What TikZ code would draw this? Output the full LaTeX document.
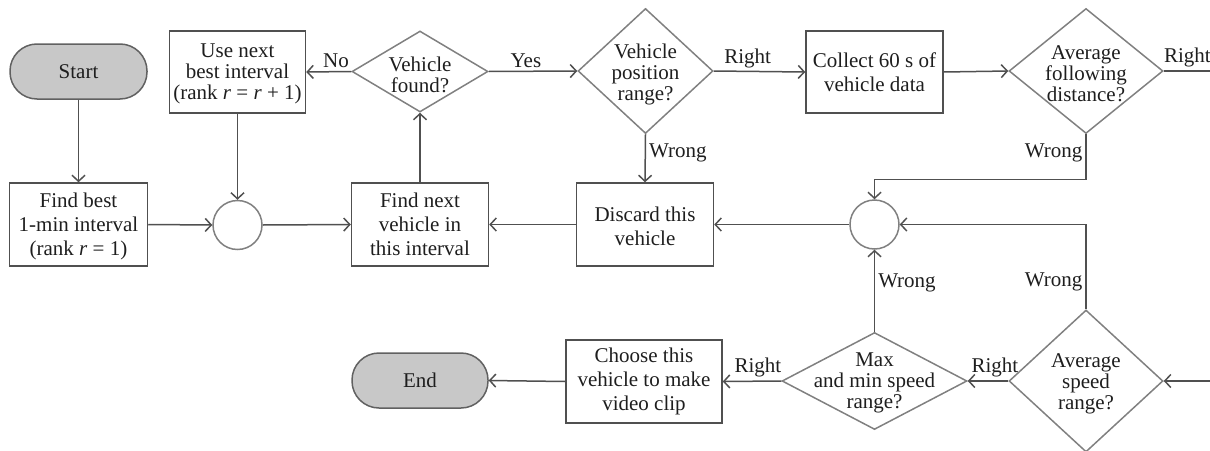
\documentclass[tikz,border=0pt]{standalone}
\usepackage{fontspec}
\setmainfont{Liberation Serif}
\usetikzlibrary{shapes.geometric,arrows.meta}
\definecolor{lncol}{HTML}{505050}
\definecolor{dmcol}{HTML}{808080}
\definecolor{txcol}{HTML}{1E1E1E}
\definecolor{tfcol}{HTML}{C8C8C8}
\begin{document}
\begin{tikzpicture}[x=1pt, y=-1pt, line width=1.5pt,
  font=\fontsize{21}{24}\selectfont, text=txcol,
  arr/.style={draw=lncol, -{Straight Barb[length=6pt,width=13pt]}},
  plain/.style={draw=lncol},
  boxnode/.style={rectangle, draw=lncol, minimum width=137pt, minimum height=83pt, inner sep=0pt, align=center},
  term/.style={rectangle, draw=lncol!90, fill=tfcol, rounded corners=27pt, minimum width=137pt, minimum height=55pt, inner sep=0pt},
  dec/.style={diamond, draw=dmcol, inner sep=0pt},
  dtext/.style={align=center, font=\fontsize{21}{21}\selectfont, inner sep=0pt, yshift=-3pt},
  junc/.style={circle, draw=dmcol, minimum size=49pt, inner sep=0pt},
  lab/.style={inner sep=3pt}]
\useasboundingbox (0,0) rectangle (1210,450);

% row 1
\node[term] (start) at (78.5,71.5) {Start};
\node[boxnode, minimum width=136pt, minimum height=82pt, font=\fontsize{21}{21.5}\selectfont] (usenext) at (237.5,72) {\raisebox{-2pt}[\height][\depth]{\begin{tabular}{@{}c@{}}Use next\\[-0.5pt]best interval\\[-0.5pt](rank \textit{r} = \textit{r} + 1)\end{tabular}}};
\node[dec, minimum width=136pt, minimum height=81pt, label={[dtext]center:Vehicle\\found?}] (found) at (420,71.5) {};
\node[dec, minimum width=135pt, minimum height=125pt, label={[dtext]center:Vehicle\\position\\range?}] (position) at (645.5,71) {};
\node[boxnode, minimum height=82pt] (collect) at (874.5,72) {Collect 60 s of\\vehicle data};
\node[dec, minimum width=154pt, minimum height=125pt, label={[dtext]center:Average\\following\\distance?}] (follow) at (1086,71) {};
\coordinate (outR) at (1212,71);

% row 2
\node[boxnode, minimum width=138pt] (findbest) at (78.5,224.5) {\raisebox{-2.5pt}[\height][\depth]{\begin{tabular}{@{}c@{}}Find best\\1-min interval\\(rank \textit{r} = 1)\end{tabular}}};
\node[junc] (c1) at (237.5,225) {};
\node[boxnode] (findnext) at (420,224.5) {Find next\\vehicle in\\this interval};
\node[boxnode] (discard) at (645,224.5) {\raisebox{-4pt}[\height][\depth]{\begin{tabular}{@{}c@{}}Discard this\\vehicle\end{tabular}}};
\node[junc] (c2) at (874.5,224.5) {};

% row 3
\node[term, minimum width=136pt] (end) at (420,380.5) {End};
\node[boxnode, minimum width=156pt] (choose) at (644,381.5) {Choose this\\vehicle to make\\video clip};
\node[dec, minimum width=185pt, minimum height=97pt, label={[dtext, yshift=1pt]center:Max\\and min speed\\range?}] (maxmin) at (874.5,381) {};
\node[dec, minimum width=154pt, minimum height=142pt, label={[dtext]center:Average\\speed\\range?}] (avgspeed) at (1086,381) {};
\coordinate (inR) at (1212,381);

% connectors
\draw[arr] (start.south) -- (findbest.north);
\draw[arr] (findbest.east) -- (c1.west);
\draw[arr] (usenext.south) -- (c1.north);
\draw[arr] (c1.east) -- (findnext.west);
\draw[arr] (findnext.north) -- (found.south);
\draw[arr] (found.west) -- node[lab, above, pos=0.34] {No} (usenext.east);
\draw[arr] (found.east) -- node[lab, above, pos=0.42] {Yes} (position.west);
\draw[arr] (position.east) -- node[lab, above, pos=0.37] {Right} (collect.west);
\draw[arr] (position.south) -- node[lab, right, pos=0.38] {Wrong} (discard.north);
\draw[arr] (collect.east) -- (follow.west);
\draw[plain] (follow.east) -- node[lab, above, pos=0.49] {Right} (outR);
\draw[arr] (follow.south) -- node[lab, left, pos=0.42] {Wrong} ++(0,45) -| (c2.north);
\draw[arr] (discard.west) -- (findnext.east);
\draw[arr] (c2.west) -- (discard.east);
\draw[arr] (avgspeed.north) |- node[lab, left, pos=0.16] {Wrong} (c2.east);
\draw[arr] (maxmin.north) -- node[lab, right, pos=0.59] {Wrong} (c2.south);
\draw[arr] (inR) -- (avgspeed.east);
\draw[arr] (avgspeed.west) -- node[lab, above, pos=0.33] {Right} (maxmin.east);
\draw[arr] (maxmin.west) -- node[lab, above, pos=0.4] {Right} (choose.east);
\draw[arr] (choose.west) -- (end.east);
\end{tikzpicture}
\end{document}
